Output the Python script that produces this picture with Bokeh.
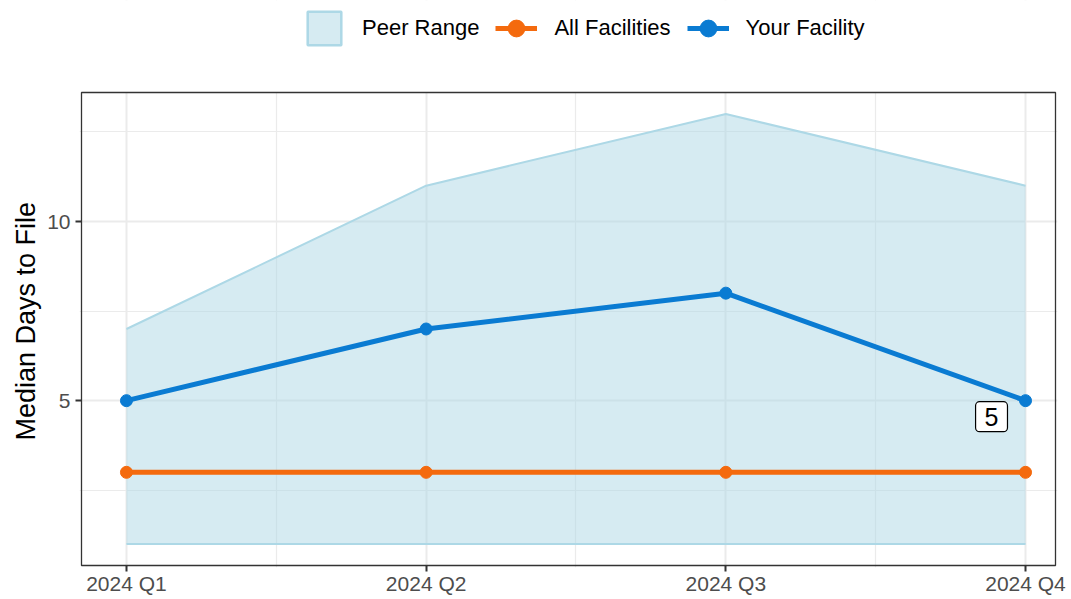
from bokeh.plotting import figure
from bokeh.models import (Legend, LegendItem, Label, FixedTicker, Range1d, Grid,
                          Title, BoxAnnotation)
from bokeh.embed import file_html
from bokeh.resources import INLINE

quarters = ["2024 Q1", "2024 Q2", "2024 Q3", "2024 Q4"]
peer_low = [1, 1, 1, 1]
peer_high = [7, 11, 13, 11]
all_fac = [3, 3, 3, 3]
your_fac = [5, 7, 8, 5]
label_text = "5"

xs = list(range(1, len(quarters) + 1))

FONT = "Liberation Sans"
ORANGE = "#F46A0E"
BLUE = "#0A7BD2"
RIB_FILL = "#ADD8E6"
RIB_LINE = "#ADD8E6"

W, H = 1071, 599
# frame geometry (px): the panel itself is drawn as a box inside the frame
F_LEFT, F_RIGHT, F_BOTTOM = 79, 1057, 567
PANEL_TOP_PX, PANEL_BOTTOM_PX = 92, 565
PX0, PX1 = 0.85, 4.10          # panel x limits (data)
PY0, PY1 = 0.4, 13.6           # panel y limits (data)

xs_px = (1055 - 81) / (PX1 - PX0)
ys_px = (PANEL_BOTTOM_PX - PANEL_TOP_PX) / (PY1 - PY0)
x_lo = PX0 - (81 - F_LEFT) / xs_px
x_hi = PX1 + (F_RIGHT - 1055) / xs_px
y_lo = PY0 - (F_BOTTOM - PANEL_BOTTOM_PX) / ys_px
y_hi = PY1 + PANEL_TOP_PX / ys_px

p = figure(width=W, height=H, output_backend="svg", toolbar_location=None,
           x_range=Range1d(x_lo, x_hi), y_range=Range1d(y_lo, y_hi),
           min_border_left=F_LEFT, min_border_right=W - F_RIGHT, min_border_top=0,
           min_border_bottom=H - F_BOTTOM)

p.background_fill_color = "white"
p.border_fill_color = "white"
p.outline_line_color = None

# grids
p.xgrid.ticker = FixedTicker(ticks=xs)
p.ygrid.ticker = FixedTicker(ticks=[5, 10])
for g in (p.xgrid, p.ygrid):
    g.grid_line_color = "#EBEBEB"
    g.grid_line_width = 2
minor_x = Grid(dimension=0, ticker=FixedTicker(ticks=[1.5, 2.5, 3.5]),
               grid_line_color="#EBEBEB", grid_line_width=1.2)
minor_y = Grid(dimension=1, ticker=FixedTicker(ticks=[2.5, 7.5, 12.5]),
               grid_line_color="#EBEBEB", grid_line_width=1.2)
p.add_layout(minor_x)
p.add_layout(minor_y)

# axes
p.xaxis.ticker = FixedTicker(ticks=xs)
p.xaxis.major_label_overrides = {x: q for x, q in zip(xs, quarters)}
p.yaxis.ticker = FixedTicker(ticks=[5, 10])
for ax in (p.xaxis, p.yaxis):
    ax.axis_line_color = None
    ax.major_tick_line_color = "#333333"
    ax.major_tick_line_width = 2
    ax.major_tick_out = 4
    ax.major_tick_in = 2
    ax.minor_tick_line_color = None
    ax.major_label_text_font = FONT
    ax.major_label_text_font_size = "21px"
    ax.major_label_text_color = "#4D4D4D"
p.xaxis.major_label_standoff = 0
p.yaxis.major_label_standoff = 5

# y-axis title, centred on the panel (not the whole frame)
ytitle = Title(text="Median Days to File", align="left",
               offset=F_BOTTOM - 440,
               text_font=FONT, text_font_size="27px", text_font_style="normal",
               text_color="black", standoff=8)
p.add_layout(ytitle, "left")

# ribbon
p.varea(x=xs, y1=peer_low, y2=peer_high, fill_color=RIB_FILL, fill_alpha=0.5)
p.line(xs, peer_high, line_color=RIB_LINE, line_width=2)
p.line(xs, peer_low, line_color=RIB_LINE, line_width=2)
rib_leg = p.rect(x=xs[:1], y=peer_low[:1], width=0, height=0,
                 fill_color=RIB_FILL, fill_alpha=0.5,
                 line_color=RIB_LINE, line_width=2.5, line_alpha=1)

# series
l_all = p.line(xs, all_fac, line_color=ORANGE, line_width=5)
s_all = p.scatter(xs, all_fac, size=12, fill_color=ORANGE, line_color=ORANGE)
l_you = p.line(xs, your_fac, line_color=BLUE, line_width=5)
s_you = p.scatter(xs, your_fac, size=12, fill_color=BLUE, line_color=BLUE)

lab = Label(x=xs[-1], y=your_fac[-1], text=label_text, x_offset=-34, y_offset=-16,
            text_align="center", text_baseline="middle",
            text_font=FONT, text_font_size="25px", text_color="black",
            background_fill_color="white", border_line_color="black",
            border_line_width=1.2, padding=dict(left=9, right=9, top=6, bottom=6),
            border_radius=4)
p.add_layout(lab)

# white area above the panel (legend zone) and the panel border
cover = BoxAnnotation(bottom=PY1, fill_color="white", fill_alpha=1,
                      line_color=None, line_alpha=0)
p.add_layout(cover)
border = BoxAnnotation(left=PX0, right=PX1, bottom=PY0, top=PY1,
                       fill_alpha=0, line_color="#333333", line_alpha=1,
                       line_width=1.3)
p.add_layout(border)

legend = Legend(items=[
    LegendItem(label="Peer Range", renderers=[rib_leg]),
    LegendItem(label="All Facilities", renderers=[l_all, s_all]),
    LegendItem(label="Your Facility", renderers=[l_you, s_you]),
], orientation="horizontal")
legend.label_text_font = FONT
legend.label_text_font_size = "22px"
legend.label_text_color = "black"
legend.glyph_width = 42
legend.glyph_height = 42
legend.label_height = 42
legend.label_standoff = 17
legend.spacing = 16
legend.padding = 0
legend.margin = 0
legend.border_line_color = None
legend.background_fill_alpha = 0
legend_left_px, legend_bottom_px = 303, 49
legend.location = (legend_left_px - F_LEFT, F_BOTTOM - legend_bottom_px)
p.add_layout(legend, "center")

open("out.html", "w").write(file_html(p, INLINE))
